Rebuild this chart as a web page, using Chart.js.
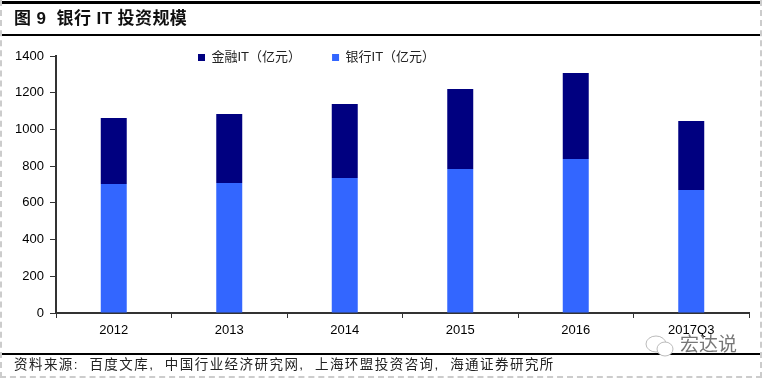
<!DOCTYPE html>
<html>
<head>
<meta charset="utf-8">
<script src="https://cdn.jsdelivr.net/npm/chart.js@4/dist/chart.umd.min.js"></script>
<style>
  html, body { margin: 0; padding: 0; background: #fff; }
  #page { position: relative; width: 762px; height: 378px; overflow: hidden; font-family: "Liberation Sans", "Noto Sans CJK SC", sans-serif; }
  canvas { position: absolute; left: 0; top: 0; }
  .edge { position: absolute; box-sizing: border-box; }
  .rule { position: absolute; left: 2px; right: 2px; background: #000; }
  #title { position: absolute; left: 14px; top: 8px; font-size: 17px; line-height: 22px; font-weight: 700; letter-spacing: 0.4px; color: #111; white-space: pre; }
  #source { position: absolute; left: 14px; top: 356px; font-size: 13.5px; line-height: 18px; letter-spacing: 1.45px; color: #222; white-space: pre; }
  #mark { position: absolute; left: 680px; top: 334px; font-size: 19px; line-height: 22px; color: #777; white-space: pre; }
  #icon { position: absolute; left: 645px; top: 335px; }
</style>
</head>
<body>
<div id="page">
  <canvas id="chart" width="762" height="378"></canvas>
  <div class="edge" style="left:0;top:0;bottom:0;width:2px;border-left:2px dashed #ccc"></div>
  <div class="edge" style="right:0;top:0;bottom:0;width:2px;border-right:2px dashed #ccc"></div>
  <div class="edge" style="left:0;right:0;bottom:0;height:2px;border-bottom:2px dashed #ccc"></div>
  <div class="rule" style="top:1px;height:3px"></div>
  <div class="rule" style="top:34px;height:2px"></div>
  <div class="rule" style="top:353px;height:2px"></div>
  <div id="title">图 9  银行 IT 投资规模</div>
  <div id="source">资料来源:  百度文库,  中国行业经济研究网,  上海环盟投资咨询,  海通证券研究所</div>
  <svg id="icon" width="30" height="24" viewBox="0 0 30 24" fill="none" stroke="#bbb" stroke-width="1">
    <ellipse cx="11" cy="9" rx="10" ry="8"/>
    <ellipse cx="20" cy="14" rx="8" ry="7" fill="#fff"/>
  </svg>
  <div id="mark">宏达说</div>
</div>
<script>
const categories = ["2012", "2013", "2014", "2015", "2016", "2017Q3"];
const bankIT = [703, 708, 735, 784, 839, 670];
const financeIT = [359, 376, 403, 436, 468, 376];
const yTicks = [0, 200, 400, 600, 800, 1000, 1200, 1400];

// legend sits on top of the plot, so it should not take any layout height
const floatLegend = {
  id: "floatLegend",
  beforeLayout(chart) {
    const legend = chart.legend;
    if (!legend._wrapped) {
      const fit = legend.fit;
      legend.fit = function () { fit.call(this); this.height = 0; };
      legend._wrapped = true;
    }
  },
  beforeDraw(chart) {
    const legend = chart.legend;
    legend.left = 167;
    legend.right = 640;
    legend.top = 20;
    legend.bottom = 80; // draw() clips to this box
  }
};

new Chart(document.getElementById("chart").getContext("2d"), {
  type: "bar",
  plugins: [floatLegend],
  data: {
    labels: categories,
    datasets: [
      { label: "银行IT（亿元）", data: bankIT, backgroundColor: "#3366FF" },
      { label: "金融IT（亿元）", data: financeIT, backgroundColor: "#000080" }
    ]
  },
  options: {
    responsive: false,
    animation: false,
    layout: { padding: { left: 0, right: 13, top: 56, bottom: 35 } },
    datasets: { bar: { categoryPercentage: 1, barPercentage: 0.225 } },
    plugins: {
      tooltip: { enabled: false },
      title: { display: false },
      legend: {
        display: true,
        position: "top",
        align: "start",
        reverse: true,
        labels: {
          boxWidth: 7,
          boxHeight: 7,
          padding: 31,
          color: "#222",
          font: { size: 13, family: "'Liberation Sans', 'Noto Sans CJK SC'" }
        }
      }
    },
    scales: {
      x: {
        stacked: true,
        afterFit: (s) => { s.height = 30; },
        border: { color: "#333", width: 2 },
        grid: { drawOnChartArea: false, color: "#333", tickLength: 5, offset: true },
        ticks: { color: "#000", padding: 5, maxRotation: 0, font: { size: 13, family: "'Liberation Sans'" } }
      },
      y: {
        stacked: true,
        min: 0,
        max: 1400,
        afterFit: (s) => { s.width = 56; },
        afterBuildTicks: (s) => { s.ticks = yTicks.map((v) => ({ value: v })); },
        border: { color: "#333", width: 2 },
        grid: { drawOnChartArea: false, color: "#333", tickLength: 6 },
        ticks: { color: "#000", padding: 6, callback: (v) => String(v), font: { size: 13, family: "'Liberation Sans'" } }
      }
    }
  }
});
</script>
</body>
</html>
